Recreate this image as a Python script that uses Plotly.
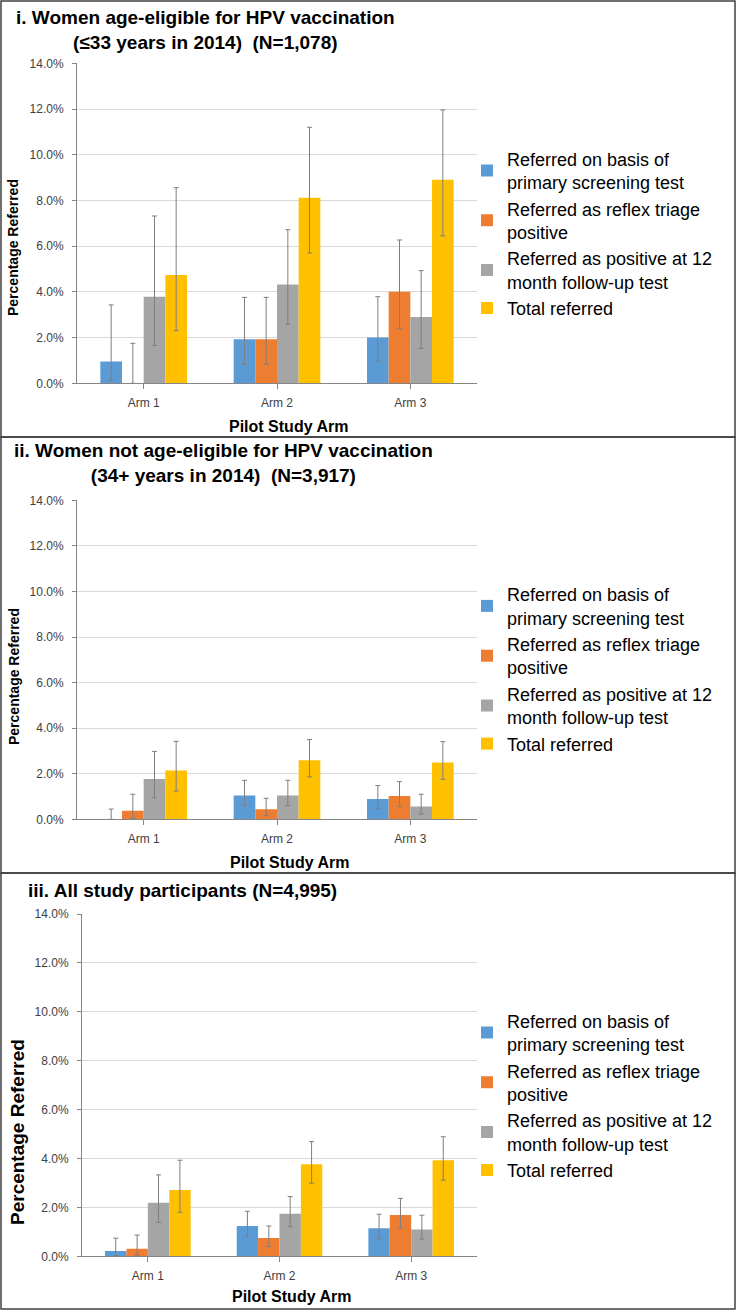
import plotly.graph_objects as go

# ---------------- data ----------------
arms = ["Arm 1", "Arm 2", "Arm 3"]
series_names = [
    "Referred on basis of<br>primary screening test",
    "Referred as reflex triage<br>positive",
    "Referred as positive at 12<br>month follow-up test",
    "Total referred",
]
series_colors = ["#5B9BD5", "#ED7D31", "#A5A5A5", "#FFC000"]

panel_titles = [
    "i. Women age-eligible for HPV vaccination<br>(≤33 years in 2014)  (N=1,078)",
    "ii. Women not age-eligible for HPV vaccination<br>(34+ years in 2014)  (N=3,917)",
    "iii. All study participants (N=4,995)",
]
y_tick_values = [0, 2, 4, 6, 8, 10, 12, 14]
y_tick_labels = ["0.0%", "2.0%", "4.0%", "6.0%", "8.0%", "10.0%", "12.0%", "14.0%"]

# Panel i (percent)
p1_primary = [0.95, 1.93, 2.00]
p1_primary_lo = [0.12, 0.83, 0.95]
p1_primary_hi = [3.43, 3.76, 3.79]
p1_reflex = [0.00, 1.93, 4.01]
p1_reflex_lo = [0.00, 0.83, 2.39]
p1_reflex_hi = [1.75, 3.76, 6.27]
p1_followup = [3.79, 4.32, 2.90]
p1_followup_lo = [1.66, 2.58, 1.53]
p1_followup_hi = [7.32, 6.72, 4.93]
p1_total = [4.74, 8.12, 8.90]
p1_total_lo = [2.30, 5.70, 6.45]
p1_total_hi = [8.56, 11.20, 11.96]

# Panel ii
p2_primary = [0.00, 1.05, 0.89]
p2_primary_lo = [0.00, 0.60, 0.48]
p2_primary_hi = [0.45, 1.71, 1.48]
p2_reflex = [0.37, 0.44, 1.02]
p2_reflex_lo = [0.05, 0.16, 0.56]
p2_reflex_hi = [1.10, 0.92, 1.65]
p2_followup = [1.77, 1.05, 0.56]
p2_followup_lo = [0.95, 0.60, 0.23]
p2_followup_hi = [2.98, 1.71, 1.10]
p2_total = [2.14, 2.59, 2.49]
p2_total_lo = [1.24, 1.86, 1.76]
p2_total_hi = [3.42, 3.50, 3.41]

# Panel iii
p3_primary = [0.22, 1.24, 1.15]
p3_primary_lo = [0.03, 0.80, 0.71]
p3_primary_hi = [0.74, 1.84, 1.72]
p3_reflex = [0.31, 0.75, 1.69]
p3_reflex_lo = [0.05, 0.40, 1.17]
p3_reflex_hi = [0.87, 1.24, 2.37]
p3_followup = [2.19, 1.74, 1.10]
p3_followup_lo = [1.39, 1.21, 0.70]
p3_followup_hi = [3.33, 2.44, 1.68]
p3_total = [2.71, 3.76, 3.93]
p3_total_lo = [1.80, 2.99, 3.12]
p3_total_hi = [3.93, 4.69, 4.89]

panels = [
    [(p1_primary, p1_primary_lo, p1_primary_hi), (p1_reflex, p1_reflex_lo, p1_reflex_hi),
     (p1_followup, p1_followup_lo, p1_followup_hi), (p1_total, p1_total_lo, p1_total_hi)],
    [(p2_primary, p2_primary_lo, p2_primary_hi), (p2_reflex, p2_reflex_lo, p2_reflex_hi),
     (p2_followup, p2_followup_lo, p2_followup_hi), (p2_total, p2_total_lo, p2_total_hi)],
    [(p3_primary, p3_primary_lo, p3_primary_hi), (p3_reflex, p3_reflex_lo, p3_reflex_hi),
     (p3_followup, p3_followup_lo, p3_followup_hi), (p3_total, p3_total_lo, p3_total_hi)],
]

# ---------------- layout geometry (pixels) ----------------
W, H = 736, 1310
FONT = "Liberation Sans, Arial, sans-serif"


def px_x(x):
    return x / W


def px_y(y):
    return 1 - y / H


plot_boxes = [  # x0, x1, ytop, ybottom
    (77, 477, 63.3, 383.3),
    (77, 477, 500.3, 819.3),
    (82, 477, 914.0, 1256.3),
]
panel_bounds = [(0, 437), (437, 873), (873, 1310)]
title_pos = [(205, 30), (223, 463), (182, 891)]
ytitle_pos = [(13, 248, 14), (14, 677, 14), (17, 1132, 19)]
xtitle_pos = [(288, 426), (289, 862), (291, 1296)]
legend_top = [140.5, 576, 1002.5]

fig = go.Figure()

for i, series in enumerate(panels):
    suffix = "" if i == 0 else str(i + 1)
    for (vals, lo, hi), name, color in zip(series, series_names, series_colors):
        fig.add_trace(go.Bar(
            x=arms, y=vals, name=name,
            marker=dict(color=color, line=dict(width=0)),
            error_y=dict(
                type="data", symmetric=False,
                array=[h - v for h, v in zip(hi, vals)],
                arrayminus=[v - l for v, l in zip(vals, lo)],
                color="#7F7F7F", thickness=1, width=2.5,
            ),
            xaxis="x" + suffix, yaxis="y" + suffix,
            legend="legend" + suffix,
            hoverinfo="skip",
        ))

layout = dict(
    width=W, height=H, autosize=False,
    margin=dict(l=0, r=0, t=0, b=0, pad=0, autoexpand=False),
    paper_bgcolor="white", plot_bgcolor="white",
    barmode="group", bargap=0.35, bargroupgap=0,
    font=dict(family=FONT, color="#000000"),
    shapes=[], annotations=[],
)

for i, (x0, x1, yt, yb) in enumerate(plot_boxes):
    suffix = "" if i == 0 else str(i + 1)
    layout["xaxis" + suffix] = dict(
        domain=[px_x(x0), px_x(x1)], anchor="y" + suffix,
        type="category", categoryorder="array", categoryarray=arms,
        range=[-0.5, 2.5], automargin=False,
        showline=True, linecolor="#868686", linewidth=1,
        ticks="outside", ticklen=5, tickcolor="#868686",
        tickfont=dict(size=12, color="#404040", family=FONT),
        ticklabelstandoff=3,
        showgrid=False, zeroline=False, fixedrange=True,
    )
    layout["yaxis" + suffix] = dict(
        domain=[px_y(yb), px_y(yt)], anchor="x" + suffix,
        range=[0, 14], tickmode="array", automargin=False,
        tickvals=y_tick_values, ticktext=y_tick_labels,
        showline=True, linecolor="#868686", linewidth=1,
        ticks="outside", ticklen=4, tickcolor="#868686",
        tickfont=dict(size=12, color="#404040", family=FONT),
        ticklabelstandoff=6,
        showgrid=True, gridcolor="#D9D9D9", gridwidth=1,
        zeroline=False, fixedrange=True,
    )
    layout["legend" + suffix] = dict(
        x=px_x(467), xanchor="left",
        y=px_y(legend_top[i]), yanchor="top",
        font=dict(size=18, color="#000000", family=FONT),
        bgcolor="rgba(0,0,0,0)", borderwidth=0,
        tracegroupgap=0, itemclick=False, itemdoubleclick=False,
    )
    # closing tick at the right end of the category axis
    layout["shapes"].append(dict(
        type="line", xref="x" + suffix + " domain", yref="y" + suffix,
        x0=1, x1=1, y0=0, y1=-5, ysizemode="pixel", yanchor=0,
        line=dict(color="#868686", width=1),
    ))

# panel frames
for (ya, yb) in panel_bounds:
    layout["shapes"].append(dict(
        type="rect", xref="paper", yref="paper",
        x0=px_x(1), x1=px_x(735), y0=px_y(min(yb, 1309)), y1=px_y(max(ya, 1)),
        line=dict(color="#404040", width=1.5), fillcolor="rgba(0,0,0,0)",
        layer="above",
    ))

for i in range(3):
    tx, ty = title_pos[i]
    layout["annotations"].append(dict(
        text="<b>" + panel_titles[i] + "</b>", xref="paper", yref="paper",
        x=px_x(tx), y=px_y(ty), xanchor="center", yanchor="middle",
        showarrow=False, align="center",
        font=dict(size=19, color="#000000", family=FONT),
    ))
    ax, ay, asz = ytitle_pos[i]
    layout["annotations"].append(dict(
        text="<b>Percentage Referred</b>", xref="paper", yref="paper",
        x=px_x(ax), y=px_y(ay), xanchor="center", yanchor="middle",
        showarrow=False, textangle=-90,
        font=dict(size=asz, color="#000000", family=FONT),
    ))
    bx, by = xtitle_pos[i]
    layout["annotations"].append(dict(
        text="<b>Pilot Study Arm</b>", xref="paper", yref="paper",
        x=px_x(bx), y=px_y(by), xanchor="center", yanchor="middle",
        showarrow=False,
        font=dict(size=16, color="#000000", family=FONT),
    ))

fig.update_layout(**layout)
fig.write_html(
    "out.html",
    config={"displayModeBar": False, "responsive": False},
    post_script="document.body.style.margin='0';document.body.style.padding='0';",
)
